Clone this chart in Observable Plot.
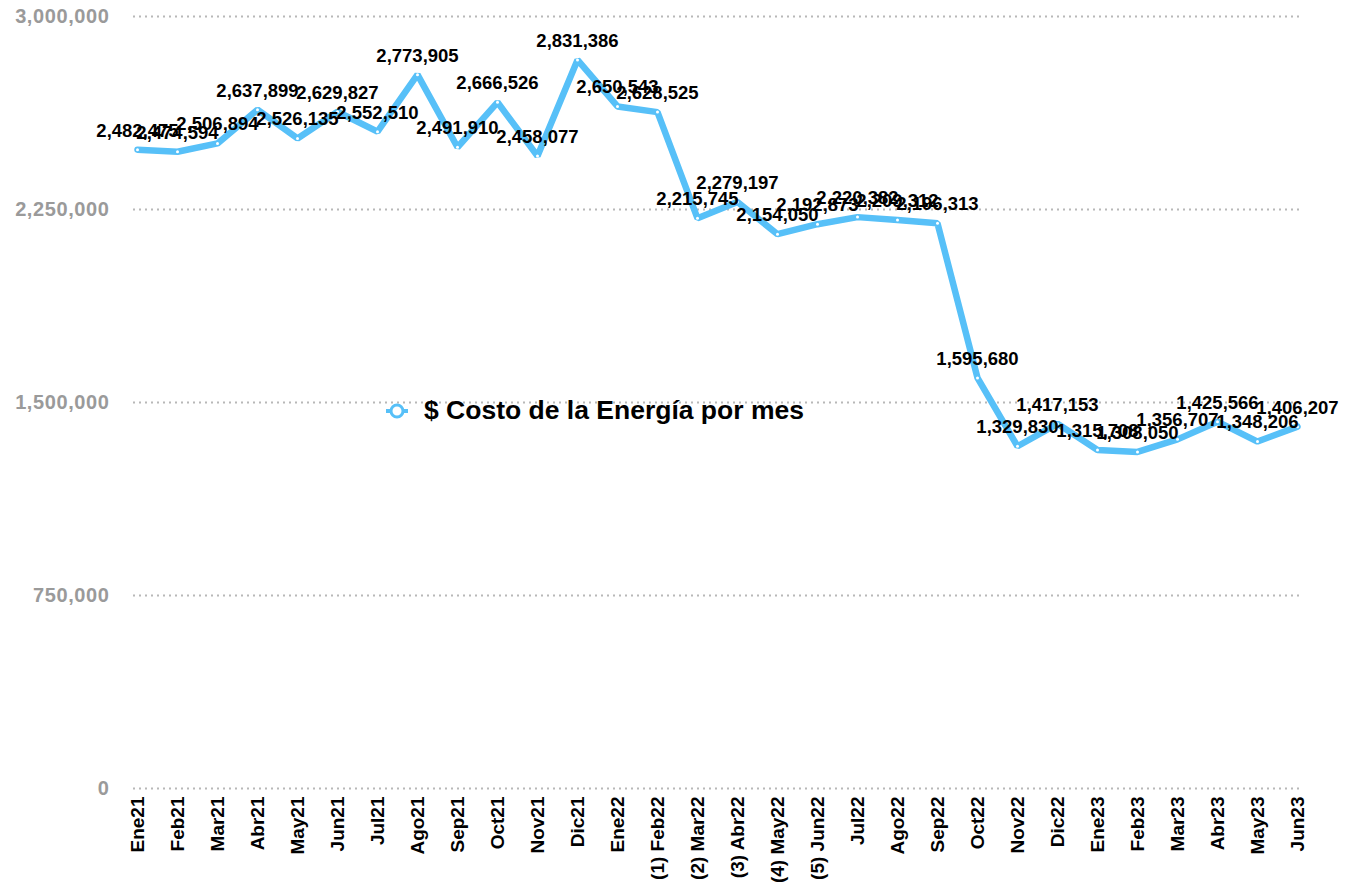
<!DOCTYPE html>
<html>
<head>
<meta charset="utf-8">
<script src="https://cdn.jsdelivr.net/npm/d3@7"></script>
<script src="https://cdn.jsdelivr.net/npm/@observablehq/plot@0.6"></script>
<style>
  html, body { margin: 0; padding: 0; background: #fff; }
  #wrap { position: relative; width: 1364px; height: 896px; font-family: "Liberation Sans", Arial, sans-serif; }
  #legend { position: absolute; left: 384px; top: 395px; display: flex; align-items: center; font-weight: bold; font-size: 26.5px; color: #000; }
  #legend svg { margin-right: 14px; }
  g[aria-label="y-axis tick label"] text { letter-spacing: 0.6px; }
</style>
</head>
<body>
<div id="wrap">
  <div id="chart"></div>
  <div id="legend">
    <svg width="26" height="20"><line x1="2" y1="10" x2="24" y2="10" stroke="#57c0f8" stroke-width="4"/><circle cx="13" cy="10" r="6" fill="#fff" stroke="#57c0f8" stroke-width="3"/></svg>
    <span>$ Costo de la Energía por mes</span>
  </div>
</div>
<script>
const months = ["Ene21","Feb21","Mar21","Abr21","May21","Jun21","Jul21","Ago21","Sep21","Oct21","Nov21","Dic21",
  "Ene22","(1) Feb22","(2) Mar22","(3) Abr22","(4) May22","(5) Jun22","Jul22","Ago22","Sep22","Oct22","Nov22","Dic22",
  "Ene23","Feb23","Mar23","Abr23","May23","Jun23"];
const costs = [2482475,2474594,2506894,2637899,2526135,2629827,2552510,2773905,2491910,2666526,2458077,2831386,
  2650543,2628525,2215745,2279197,2154050,2192873,2220382,2209312,2196313,1595680,1329830,1417153,
  1315708,1308050,1356707,1425566,1348206,1406207];
const yTicks = [0,750000,1500000,2250000,3000000];

const data = months.map((m, i) => ({month: m, value: costs[i]}));
const fmt = d3.format(",");

const chart = Plot.plot({
  width: 1364,
  height: 896,
  marginLeft: 133,
  marginRight: 64,
  marginTop: 16,
  marginBottom: 108,
  style: {fontFamily: "'Liberation Sans', Arial, sans-serif", background: "#fff", overflow: "visible"},
  x: {type: "point", domain: months, padding: 0},
  y: {domain: [0, 3000000]},
  marks: [
    Plot.ruleY(yTicks, {stroke: "#b8b8b8", strokeWidth: 2, strokeDasharray: "2,4"}),
    Plot.axisY({ticks: yTicks, tickFormat: fmt, tickSize: 0, tickPadding: 24, fontSize: 20, fontWeight: "bold", fill: "#9a9a9a", label: null}),
    Plot.axisX({tickSize: 0, tickPadding: 8, tickRotate: -90, fontSize: 19, fontWeight: "bold", fill: "#000", label: null}),
    Plot.line(data, {x: "month", y: "value", stroke: "#57c0f8", strokeWidth: 6.5, strokeLinejoin: "miter"}),
    Plot.dot(data, {x: "month", y: "value", r: 1.5, fill: "#fff", stroke: null}),
    Plot.text(data, {x: "month", y: "value", text: d => fmt(d.value), dy: -19, fontSize: 18.5, fontWeight: "bold", fill: "#000"})
  ]
});
document.getElementById("chart").appendChild(chart);
</script>
</body>
</html>
